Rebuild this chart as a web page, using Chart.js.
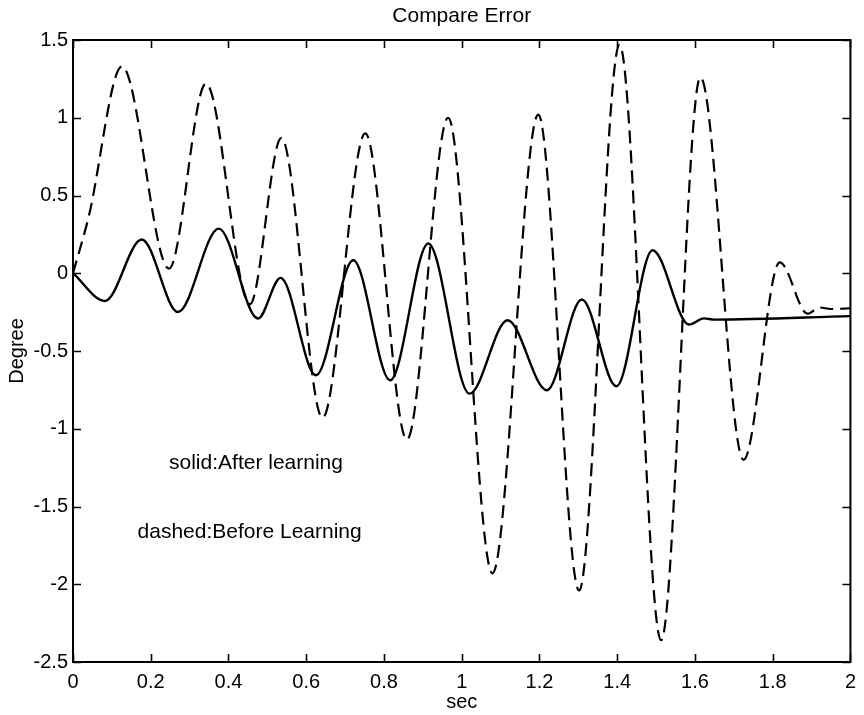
<!DOCTYPE html>
<html>
<head>
<meta charset="utf-8">
<script src="https://cdn.jsdelivr.net/npm/chart.js@4/dist/chart.umd.min.js"></script>
<style>
  html, body { margin: 0; padding: 0; background: #fff; }
  #wrap { width: 864px; height: 715px; position: relative; }
</style>
</head>
<body>
<div id="wrap"><canvas id="errChart"></canvas></div>
<script>
// values
const dashedTime = [0, 0.04, 0.126, 0.247, 0.342, 0.455, 0.536, 0.642, 0.752, 0.859, 0.965, 1.079, 1.197, 1.302, 1.406, 1.513, 1.614, 1.725, 1.818, 1.89, 1.92, 1.95, 2.0];
const dashedErr = [0, 0.36, 1.33, 0.03, 1.22, -0.2, 0.87, -0.93, 0.9, -1.07, 1.0, -1.93, 1.02, -2.04, 1.47, -2.36, 1.26, -1.2, 0.07, -0.26, -0.22, -0.23, -0.225];

const solidTime = [0, 0.082, 0.177, 0.27, 0.375, 0.476, 0.534, 0.625, 0.721, 0.816, 0.914, 1.02, 1.118, 1.219, 1.309, 1.398, 1.491, 1.585, 1.623, 1.65, 2.0];
const solidErr = [0, -0.178, 0.217, -0.249, 0.287, -0.291, -0.03, -0.656, 0.084, -0.688, 0.191, -0.774, -0.302, -0.752, -0.169, -0.727, 0.148, -0.33, -0.29, -0.298, -0.276];

const xTicks = [0, 0.2, 0.4, 0.6, 0.8, 1, 1.2, 1.4, 1.6, 1.8, 2];
const yTicks = [-2.5, -2, -1.5, -1, -0.5, 0, 0.5, 1, 1.5];

const FONT = '"Liberation Sans", Arial, Helvetica, sans-serif';

const toPts = (xs, ys) => xs.map((x, i) => ({ x: x, y: ys[i] }));

// box + inward tick marks + the two notes, matlab style
const frame = {
  id: 'frame',
  afterDatasetsDraw(chart) {
    const c = chart.ctx;
    const a = chart.chartArea;
    const sx = chart.scales.x;
    const sy = chart.scales.y;
    c.save();
    c.strokeStyle = '#000';
    c.lineWidth = 2;
    c.strokeRect(a.left, a.top, a.right - a.left, a.bottom - a.top);
    c.lineWidth = 1.6;
    c.beginPath();
    xTicks.forEach(v => {
      const px = Math.round(sx.getPixelForValue(v)) + 0.5;
      c.moveTo(px, a.bottom); c.lineTo(px, a.bottom - 8);
      c.moveTo(px, a.top); c.lineTo(px, a.top + 8);
    });
    yTicks.forEach(v => {
      const py = Math.round(sy.getPixelForValue(v)) + 0.5;
      c.moveTo(a.left, py); c.lineTo(a.left + 8, py);
      c.moveTo(a.right, py); c.lineTo(a.right - 8, py);
    });
    c.stroke();

    c.fillStyle = '#000';
    c.font = '21px ' + FONT;
    c.textAlign = 'left';
    c.textBaseline = 'middle';
    c.fillText('solid:After learning', sx.getPixelForValue(0.247), sy.getPixelForValue(-1.222));
    c.fillText('dashed:Before Learning', sx.getPixelForValue(0.166), sy.getPixelForValue(-1.666));
    c.restore();
  }
};

new Chart(document.getElementById('errChart'), {
  type: 'line',
  data: {
    datasets: [{
      label: 'Before Learning',
      data: toPts(dashedTime, dashedErr),
      borderColor: '#000',
      borderWidth: 2.2,
      borderDash: [13, 7],
      pointRadius: 0,
      cubicInterpolationMode: 'monotone',
      fill: false,
    }, {
      label: 'After learning',
      data: toPts(solidTime, solidErr),
      borderColor: '#000',
      borderWidth: 2.4,
      pointRadius: 0,
      cubicInterpolationMode: 'monotone',
      fill: false,
    }],
  },
  options: {
    responsive: true,
    maintainAspectRatio: false,
    animation: false,
    layout: { padding: { left: 0, right: 6, top: 0, bottom: 0 } },
    plugins: {
      legend: { display: false },
      tooltip: { enabled: false },
    },
    scales: {
      x: {
        type: 'linear',
        position: 'bottom',
        min: 0,
        max: 2,
        afterBuildTicks: s => { s.ticks = xTicks.map(v => ({ value: v })); },
        afterFit: s => { s.height = 53; },
        grid: { display: false, drawTicks: false },
        border: { display: false },
        ticks: {
          padding: 8,
          color: '#000',
          font: { family: FONT, size: 20 },
          maxRotation: 0,
          autoSkip: false,
          callback: v => String(v),
        },
        title: {
          display: true,
          text: 'sec',
          color: '#000',
          font: { family: FONT, size: 20 },
          padding: { top: 0, bottom: 1 },
        },
      },
      x2: {
        type: 'linear',
        position: 'top',
        min: 0,
        max: 2,
        afterFit: s => { s.height = 40; },
        grid: { display: false, drawTicks: false },
        border: { display: false },
        ticks: { display: false },
        title: {
          display: true,
          text: 'Compare Error',
          color: '#000',
          font: { family: FONT, size: 21 },
          padding: { top: 4, bottom: 0 },
        },
      },
      y: {
        type: 'linear',
        min: -2.5,
        max: 1.5,
        afterBuildTicks: s => { s.ticks = yTicks.map(v => ({ value: v })); },
        afterFit: s => { s.width = 73; },
        grid: { display: false, drawTicks: false },
        border: { display: false },
        ticks: {
          padding: 5,
          color: '#000',
          font: { family: FONT, size: 20 },
          autoSkip: false,
          callback: v => String(v),
        },
        title: {
          display: true,
          text: 'Degree',
          color: '#000',
          font: { family: FONT, size: 20 },
          padding: { top: 5, bottom: 0 },
        },
      },
    },
  },
  plugins: [frame],
});
</script>
</body>
</html>
